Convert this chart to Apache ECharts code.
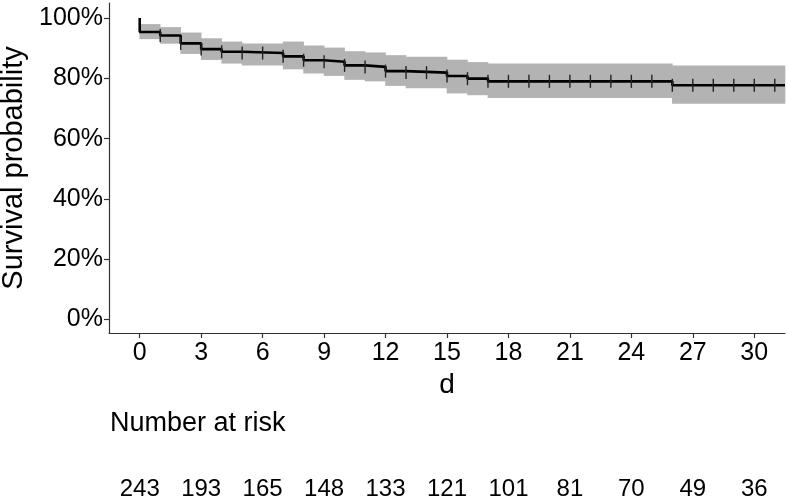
<!DOCTYPE html>
<html>
<head>
<meta charset="utf-8">
<script src="https://cdn.jsdelivr.net/npm/echarts@6/dist/echarts.min.js"></script>
<style>html,body{margin:0;padding:0;background:#fff;}#c{width:788px;height:497px;}</style>
</head>
<body>
<div id="c"></div>
<script>
// ---- data ----
const stepTimes = [0, 1, 2, 3, 4, 5, 7, 8, 9, 10, 11, 12, 13, 15, 16, 17, 26];
const survival  = [0.954, 0.942, 0.916, 0.897, 0.888, 0.884, 0.873, 0.860, 0.855, 0.843, 0.838, 0.824, 0.819, 0.808, 0.799, 0.790, 0.777];
const upperCI   = [0.980, 0.970, 0.952, 0.933, 0.922, 0.916, 0.922, 0.909, 0.902, 0.890, 0.886, 0.877, 0.872, 0.862, 0.854, 0.849, 0.843];
const lowerCI   = [0.930, 0.915, 0.881, 0.861, 0.849, 0.843, 0.830, 0.816, 0.808, 0.795, 0.790, 0.775, 0.767, 0.750, 0.744, 0.735, 0.716];
const endTime = 31.5;
const censorTimes = [1,2,3,4,5,6,7,8,9,10,11,12,13,14,15,16,17,18,19,20,21,22,23,24,25,26,27,28,29,30,31];
const xTicks = [0, 3, 6, 9, 12, 15, 18, 21, 24, 27, 30];
const yTicks = [0, 0.2, 0.4, 0.6, 0.8, 1.0];
const riskTimes = [0, 3, 6, 9, 12, 15, 18, 21, 24, 27, 30];
const riskCounts = [243, 193, 165, 148, 133, 121, 101, 81, 70, 49, 36];

// ---- derived structures ----
function survAt(t) {
  let v = 1;
  for (let i = 0; i < stepTimes.length; i++) if (stepTimes[i] <= t) v = survival[i];
  return v;
}
const lineData = [[0, 1]];
stepTimes.forEach((t, i) => lineData.push([t, survival[i]]));
lineData.push([endTime, survival[survival.length - 1]]);

const bandData = stepTimes.map((t, i) => [t, i + 1 < stepTimes.length ? stepTimes[i + 1] : endTime, lowerCI[i], upperCI[i]]);
const censorData = censorTimes.map(t => [t, survAt(t)]);
const riskData = riskTimes.map((t, i) => [t, 0.5, riskCounts[i]]);

const FONT = 'Liberation Sans';
const chart = echarts.init(document.getElementById('c'), null, {renderer: 'canvas'});
chart.setOption({
  animation: false,
  backgroundColor: '#fff',
  textStyle: {fontFamily: FONT},
  title: {
    text: 'Number at risk', left: 105, top: 405,
    textStyle: {fontFamily: FONT, fontSize: 27, fontWeight: 'normal', color: '#000'}
  },
  grid: [
    {left: 109, right: 3, top: 3, height: 330, containLabel: false, outerBoundsMode: 'none'},
    {left: 109, right: 3, top: 477, height: 24, containLabel: false, outerBoundsMode: 'none'}
  ],
  xAxis: [{
    type: 'value', gridIndex: 0, min: -1.5, max: 31.5,
    name: 'd', nameLocation: 'middle', nameGap: 28,
    nameTextStyle: {fontFamily: FONT, fontSize: 28, color: '#000'},
    axisLine: {show: true, onZero: false, lineStyle: {color: '#333', width: 1.2}},
    axisTick: {show: true, length: 5, lineStyle: {color: '#333', width: 1.2}, customValues: xTicks},
    axisLabel: {customValues: xTicks, fontFamily: FONT, fontSize: 25, color: '#000', margin: 8},
    splitLine: {show: false}
  }, {
    type: 'value', gridIndex: 1, min: -1.5, max: 31.5, show: false
  }],
  yAxis: [{
    type: 'value', gridIndex: 0, min: -0.045, max: 1.05,
    name: 'Survival probability', nameLocation: 'middle', nameGap: 78,
    nameTextStyle: {fontFamily: FONT, fontSize: 29, color: '#000'},
    axisLine: {show: true, onZero: false, lineStyle: {color: '#333', width: 1.2}},
    axisTick: {show: true, length: 5, lineStyle: {color: '#333', width: 1.2}, customValues: yTicks},
    axisLabel: {customValues: yTicks, fontFamily: FONT, fontSize: 25, color: '#000', margin: 6,
      formatter: v => Math.round(v * 100) + '%'},
    splitLine: {show: false}
  }, {
    type: 'value', gridIndex: 1, min: 0, max: 1, show: false
  }],
  series: [{
    type: 'custom', xAxisIndex: 0, yAxisIndex: 0, data: bandData, z: 1,
    renderItem: function (params, api) {
      const p0 = api.coord([api.value(0), api.value(3)]);
      const p1 = api.coord([api.value(1), api.value(2)]);
      return {type: 'rect', shape: {x: p0[0] - 0.3, y: p0[1], width: p1[0] - p0[0] + 0.6, height: p1[1] - p0[1]},
        style: {fill: '#b3b3b3'}};
    }
  }, {
    type: 'line', xAxisIndex: 0, yAxisIndex: 0, data: lineData, step: 'end', showSymbol: false, z: 3,
    lineStyle: {color: '#000', width: 2.6}
  }, {
    type: 'scatter', xAxisIndex: 0, yAxisIndex: 0, data: censorData, symbol: 'rect', symbolSize: [1.4, 13], z: 4,
    itemStyle: {color: '#222', opacity: 1}
  }, {
    type: 'scatter', xAxisIndex: 1, yAxisIndex: 1, data: riskData, symbolSize: 0,
    itemStyle: {opacity: 1},
    label: {show: true, position: 'inside', formatter: p => String(p.value[2]),
      fontFamily: FONT, fontSize: 24, color: '#000', opacity: 1}
  }]
});
</script>
</body>
</html>
